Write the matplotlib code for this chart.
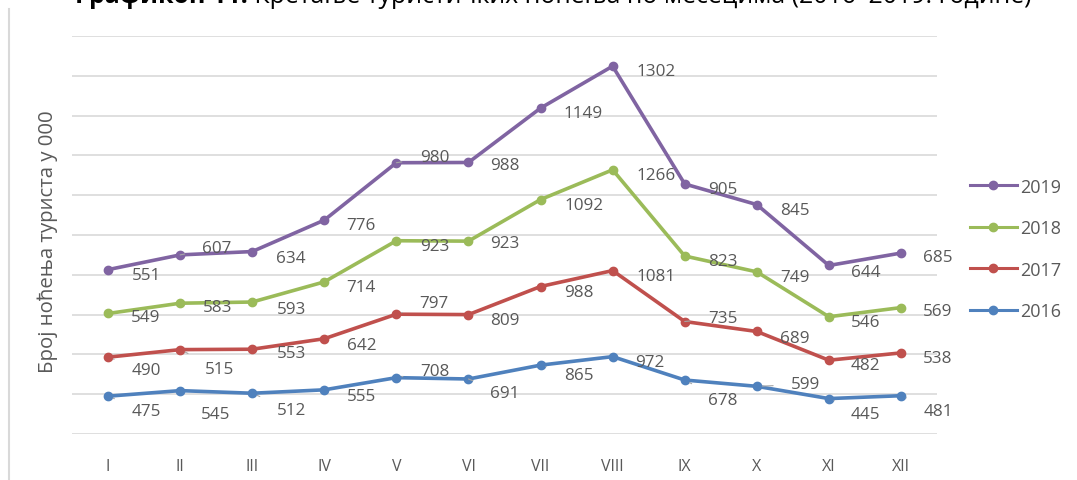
import numpy as np
import matplotlib
matplotlib.use("Agg")
import matplotlib.pyplot as plt
from matplotlib.lines import Line2D

# ---- data ----
months = ["I", "II", "III", "IV", "V", "VI", "VII", "VIII", "IX", "X", "XI", "XII"]
years = ["2016", "2017", "2018", "2019"]
v2016 = [475, 545, 512, 555, 708, 691, 865, 972, 678, 599, 445, 481]
v2017 = [490, 515, 553, 642, 797, 809, 988, 1081, 735, 689, 482, 538]
v2018 = [549, 583, 593, 714, 923, 923, 1092, 1266, 823, 749, 546, 569]
v2019 = [551, 607, 634, 776, 980, 988, 1149, 1302, 905, 845, 644, 685]
series = [v2016, v2017, v2018, v2019]

title_bold = "Графикон 11."
title_rest = " Кретање туристичких ноћења по месецима (2016–2019. године)"
ylabel = "Број ноћења туриста у 000"

# ---- styles ----
colors = ["#4F81BD", "#C0504D", "#9BBB59", "#8064A2"]
# label offsets in pixels (dx, dy up), and whether a leader line is drawn
offs = {
    0: [(38, -15), (35, -23), (39, -17), (37, -6), (39, 7), (36, -14),
        (38, -10), (37, -5), (38, -20), (49, 2), (37, -15), (37, -15)],
    1: [(38, -13), (39, -19), (39, -4), (37, -6), (38, 11), (36, -5),
        (38, -5), (43, -5), (38, 4), (38, -7), (37, -5), (37, -5)],
    2: [(38, -4), (37, -4), (39, -7), (37, -5), (38, -5), (36, -2),
        (43, -5), (43, -5), (38, -5), (38, -5), (37, -5), (37, -3)],
    3: [(38, -5), (37, 7), (39, -6), (37, -5), (38, 6), (36, -3),
        (43, -5), (43, -5), (38, -5), (38, -5), (37, -7), (37, -4)],
}
leaders = {
    0: [1, 0, 1, 0, 1, 1, 1, 0, 1, 1, 1, 1],
    1: [1, 1, 0, 0, 1, 0, 0, 0, 1, 0, 0, 0],
    2: [0] * 12,
    3: [0, 1, 0, 0, 1, 0, 0, 0, 0, 0, 0, 0],
}

W, H = 1077, 481
plt.rcParams['font.family'] = ['Open Sans', 'DejaVu Sans']
fig = plt.figure(figsize=(W / 100, H / 100), dpi=100)

ax = fig.add_axes([72 / W, 1 - 435 / H, (937 - 72) / W, (435 - 37) / H])
x = np.arange(len(months))
stack = np.cumsum(np.array(series, dtype=float), axis=0)

gray_txt = "#595959"
for i in range(len(series)):
    ax.plot(x, stack[i], color=colors[i], lw=2.6, marker='o', ms=6,
            zorder=3, label=years[i], solid_capstyle='round')
    for j in range(len(months)):
        dx, dy = offs[i][j]
        ap = None
        if leaders[i][j]:
            ap = dict(arrowstyle='-', color="#A6A6A6", lw=0.8,
                      shrinkA=11, shrinkB=4)
        ax.annotate(str(series[i][j]), (x[j], stack[i][j]),
                    xytext=(dx, dy), textcoords='offset pixels',
                    ha='center', va='center', fontsize=12.3, color=gray_txt,
                    arrowprops=ap, zorder=4)

ax.set_xlim(-0.5, len(months) - 0.5)
ax.set_ylim(0, 5000)
ax.set_yticks(np.arange(0, 5001, 500))
ax.yaxis.grid(True, color="#D9D9D9", lw=1.2)
ax.set_axisbelow(True)
ax.tick_params(axis='y', left=False, labelleft=False)
ax.set_xticks(x)
ax.set_xticklabels(months, color=gray_txt, fontsize=11.5)
ax.tick_params(axis='x', length=0, pad=17)
for s in ax.spines.values():
    s.set_visible(False)

fig.canvas.draw()
r = fig.canvas.get_renderer()

# y label, fitted to the reference extent (y 108..377)
yl = fig.text(48 / W, 1 - 242 / H, ylabel, rotation=90, ha='center',
              va='center', fontsize=13, color=gray_txt)
h = yl.get_window_extent(r).height
yl.set_fontsize(13 * 262 / h)

# legend
handles = [Line2D([0], [0], color=colors[i], lw=2.2, marker='o', ms=6)
           for i in range(3, -1, -1)]
fig.legend(handles, [years[i] for i in range(3, -1, -1)],
           loc='center left', bbox_to_anchor=(970 / W, 1 - 250 / H),
           frameon=False, fontsize=13, handlelength=2.6,
           handletextpad=0.15, labelspacing=1.3, borderpad=0,
           borderaxespad=0, labelcolor=gray_txt)

# title (cut off at top as in the reference), fitted to x 75..1030
base_y = 1 - 3 / H
fs = 16
t1 = fig.text(75 / W, base_y, title_bold, ha='left', va='baseline',
              fontsize=fs, fontweight='bold', color='black')
t2 = fig.text(0, base_y, title_rest, ha='left', va='baseline',
              fontsize=fs, color='black')
w = t1.get_window_extent(r).width + t2.get_window_extent(r).width
fs = fs * (1030 - 75) / w
t1.set_fontsize(fs)
t2.set_fontsize(fs)
fig.canvas.draw()
bb = t1.get_window_extent(r)
t2.set_x(bb.x1 / W)

# left border of chart area
fig.add_artist(Line2D([9 / W, 9 / W], [0, 1 - 10 / H], color="#D9D9D9",
                      lw=1.5, transform=fig.transFigure))

fig.savefig("out.png", dpi=100)
